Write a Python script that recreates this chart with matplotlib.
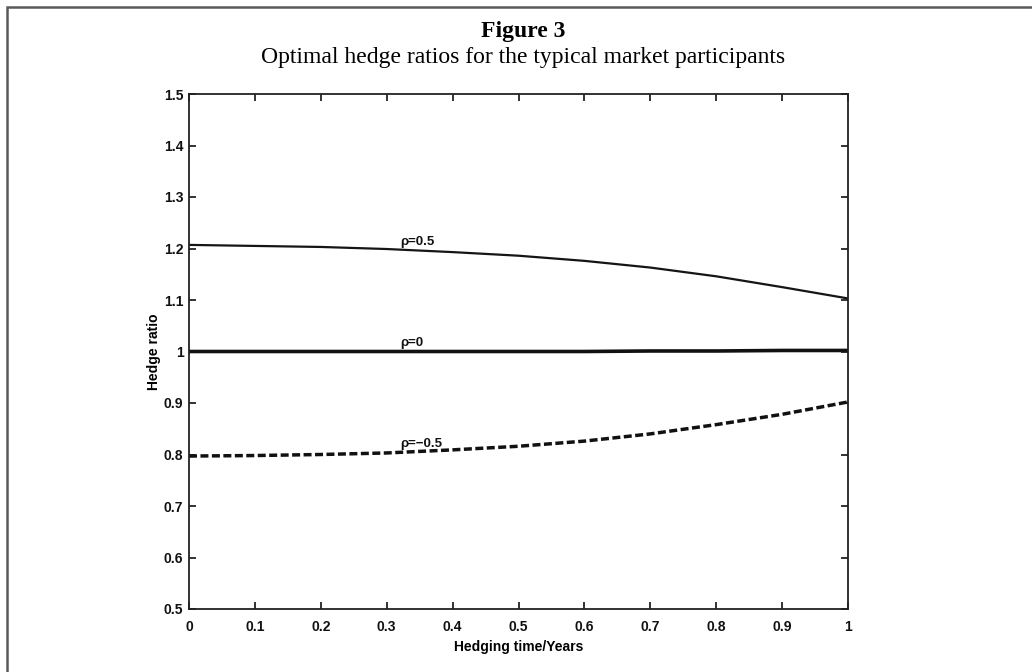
import matplotlib
matplotlib.use('Agg')
import matplotlib.pyplot as plt
from matplotlib.patches import Rectangle

# values
hedge_time = [0.0, 0.1, 0.2, 0.3, 0.4, 0.5, 0.6, 0.7, 0.8, 0.9, 1.0]
ratio_pos = [1.207, 1.205, 1.203, 1.199, 1.193, 1.186, 1.176, 1.163, 1.146, 1.125, 1.103]
ratio_zero = [1.000, 1.000, 1.000, 1.000, 1.000, 1.000, 1.000, 1.001, 1.001, 1.002, 1.002]
ratio_neg = [0.797, 0.798, 0.800, 0.803, 0.809, 0.816, 0.826, 0.840, 0.858, 0.878, 0.902]
curve_labels = ['\u03c1=0.5', '\u03c1=0', '\u03c1=\u22120.5']
x_ticks = [0, 0.1, 0.2, 0.3, 0.4, 0.5, 0.6, 0.7, 0.8, 0.9, 1]
x_tick_labels = ['0', '0.1', '0.2', '0.3', '0.4', '0.5', '0.6', '0.7', '0.8', '0.9', '1']
y_ticks = [0.5, 0.6, 0.7, 0.8, 0.9, 1.0, 1.1, 1.2, 1.3, 1.4, 1.5]
y_tick_labels = ['0.5', '0.6', '0.7', '0.8', '0.9', '1', '1.1', '1.2', '1.3', '1.4', '1.5']

sans = ['Liberation Sans', 'DejaVu Sans']
serif = ['Liberation Serif', 'DejaVu Serif']

fig = plt.figure(figsize=(10.32, 6.72), dpi=100)
fig.patch.set_facecolor('white')

# page frame (top and left visible, right/bottom run off the image)
frame = Rectangle((6.5 / 1032, -0.05), 1.2, 1 - 6.5 / 672 + 0.05,
                  transform=fig.transFigure, fill=False,
                  edgecolor='#5a5a5a', linewidth=1.8, clip_on=False)
fig.patches.append(frame)

fig.text(0.507, 1 - 32 / 672, 'Figure 3', ha='center', va='center',
         fontsize=17, fontweight='bold', family=serif)
fig.text(0.507, 1 - 57 / 672, 'Optimal hedge ratios for the typical market participants',
         ha='center', va='center', fontsize=17, family=serif)

ax = fig.add_axes([189 / 1032, 1 - 609 / 672, 659 / 1032, 515 / 672])

ax.plot(hedge_time, ratio_pos, color='#151515', linewidth=1.6)
ax.plot(hedge_time, ratio_zero, color='#111111', linewidth=2.6)
ax.plot(hedge_time, ratio_neg, color='#111111', linewidth=2.5,
        linestyle=(0, (2.3, 1.0)))

# curve labels sit just above each curve near x=0.32
label_x = 0.32
for vals, txt in zip([ratio_pos, ratio_zero, ratio_neg], curve_labels):
    y = vals[3] + (vals[4] - vals[3]) * 0.2
    ax.text(label_x, y + 0.004, txt, ha='left', va='bottom',
            fontsize=9.5, fontweight='bold', family=sans, color='#111111')

ax.set_xlim(0, 1)
ax.set_ylim(0.5, 1.5)
ax.set_xticks(x_ticks)
ax.set_xticklabels(x_tick_labels)
ax.set_yticks(y_ticks)
ax.set_yticklabels(y_tick_labels)
ax.tick_params(direction='in', length=5, width=1.2, top=True, right=True,
               labelsize=10, colors='#111111')
ax.tick_params(axis='x', pad=8)
ax.tick_params(axis='y', pad=4)
for lab in ax.get_xticklabels() + ax.get_yticklabels():
    lab.set_fontweight('bold')
    lab.set_family(sans)
for sp in ax.spines.values():
    sp.set_linewidth(1.3)
    sp.set_color('#222222')

ax.set_xlabel('Hedging time/Years', fontsize=10, fontweight='bold',
              family=sans, labelpad=4)
ax.set_ylabel('Hedge ratio', fontsize=10, fontweight='bold',
              family=sans, labelpad=2)

fig.savefig('out.png', dpi=100, facecolor='white')
